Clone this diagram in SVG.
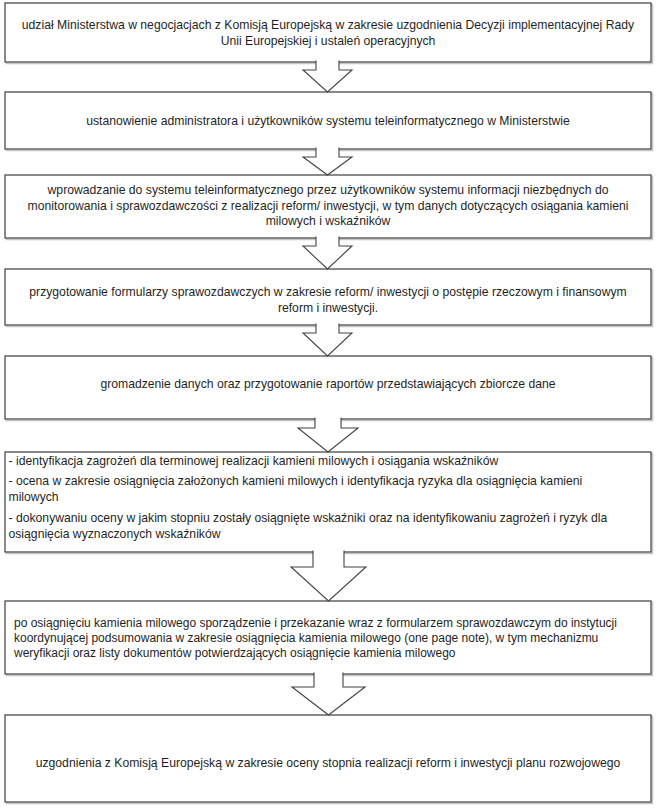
<svg xmlns="http://www.w3.org/2000/svg" width="657" height="809" viewBox="0 0 657 809">
<style>
  .box { fill: #ffffff; stroke: #3c3c3c; stroke-width: 1.2; }
  .shadow { fill: none; stroke: #c4c4c4; stroke-width: 1.5; }
  .arrow { fill: #ffffff; stroke: #434343; stroke-width: 1.1; stroke-linejoin: miter; }
  text { font-family: "Liberation Sans", Arial, sans-serif; font-size: 12.2px; fill: #1f1f1f; }
  .c { text-anchor: middle; }
  .l { text-anchor: start; }
</style>
<rect x="0" y="0" width="657" height="809" fill="#ffffff"/>

<g id="node1">
  <rect class="shadow" x="6.5" y="4.5" width="646" height="59"/>
  <rect class="box" x="5" y="3" width="646" height="59"/>
  <text class="c" x="328" y="29">udział Ministerstwa w negocjacjach z Komisją Europejską w zakresie uzgodnienia Decyzji implementacyjnej Rady</text>
  <text class="c" x="328" y="45">Unii Europejskiej i ustaleń operacyjnych</text>
</g>

<g id="node2">
  <rect class="shadow" x="6.5" y="93.5" width="646" height="57"/>
  <rect class="box" x="5" y="92" width="646" height="57"/>
  <text class="c" x="328" y="125">ustanowienie administratora i użytkowników systemu teleinformatycznego w Ministerstwie</text>
</g>

<g id="node3">
  <rect class="shadow" x="6.5" y="176.5" width="646" height="63"/>
  <rect class="box" x="5" y="175" width="646" height="63"/>
  <text class="c" x="328" y="194">wprowadzanie do systemu teleinformatycznego przez użytkowników systemu informacji niezbędnych do</text>
  <text class="c" x="328" y="209.5">monitorowania i sprawozdawczości z realizacji reform/ inwestycji, w tym danych dotyczących osiągania kamieni</text>
  <text class="c" x="328" y="225">milowych i wskaźników</text>
</g>

<g id="node4">
  <rect class="shadow" x="6.5" y="270.5" width="646" height="56"/>
  <rect class="box" x="5" y="269" width="646" height="56"/>
  <text class="c" x="328" y="296">przygotowanie formularzy sprawozdawczych w zakresie reform/ inwestycji o postępie rzeczowym i finansowym</text>
  <text class="c" x="328" y="311.5">reform i inwestycji.</text>
</g>

<g id="node5">
  <rect class="shadow" x="6.5" y="357.5" width="646" height="63"/>
  <rect class="box" x="5" y="356" width="646" height="63"/>
  <text class="c" x="328" y="388">gromadzenie danych oraz przygotowanie raportów przedstawiających zbiorcze dane</text>
</g>

<g id="node6">
  <rect class="shadow" x="6.5" y="453.5" width="646" height="100"/>
  <rect class="box" x="5" y="452" width="646" height="100"/>
  <text class="l" x="8.5" y="465">- identyfikacja zagrożeń dla terminowej realizacji kamieni milowych i osiągania wskaźników</text>
  <text class="l" x="8.5" y="485">- ocena w zakresie osiągnięcia założonych kamieni milowych i identyfikacja ryzyka dla osiągnięcia kamieni</text>
  <text class="l" x="8.5" y="500.5">milowych</text>
  <text class="l" x="8.5" y="522">- dokonywaniu oceny w jakim stopniu zostały osiągnięte wskaźniki oraz na identyfikowaniu zagrożeń i ryzyk dla</text>
  <text class="l" x="8.5" y="537.5">osiągnięcia wyznaczonych wskaźników</text>
</g>

<g id="node7">
  <rect class="shadow" x="6.5" y="602.5" width="646" height="73"/>
  <rect class="box" x="5" y="601" width="646" height="73"/>
  <text class="l" x="14" y="627" style="font-size:12px">po osiągnięciu kamienia milowego sporządzenie i przekazanie wraz z formularzem sprawozdawczym do instytucji</text>
  <text class="l" x="14" y="642" style="font-size:12px">koordynującej podsumowania w zakresie osiągnięcia kamienia milowego (one page note), w tym mechanizmu</text>
  <text class="l" x="14" y="657" style="font-size:12px">weryfikacji oraz listy dokumentów potwierdzających osiągnięcie kamienia milowego</text>
</g>

<g id="node8">
  <rect class="shadow" x="6.5" y="716.5" width="646" height="87"/>
  <rect class="box" x="5" y="715" width="646" height="87"/>
  <text class="c" x="328" y="767">uzgodnienia z Komisją Europejską w zakresie oceny stopnia realizacji reform i inwestycji planu rozwojowego</text>
</g>

<g id="connectors">
  <path class="arrow" d="M316,60.5 V70 H303 L327.5,92 L352,70 H339 V60.5"/>
  <path class="arrow" d="M316,147.5 V157 H303 L327.5,175 L352,157 H339 V147.5"/>
  <path class="arrow" d="M316,236.5 V246 H303 L327.5,269 L352,246 H339 V236.5"/>
  <path class="arrow" d="M316,323.5 V333 H303 L327.5,356 L352,333 H339 V323.5"/>
  <path class="arrow" d="M315,417.5 V428 H298 L328,452 L358,428 H341 V417.5"/>
  <path class="arrow" d="M313,550.5 V567 H291 L328.5,601 L366,567 H344 V550.5"/>
  <path class="arrow" d="M314,672.5 V687 H292 L328.5,715 L365,687 H343 V672.5"/>
</g>
</svg>
